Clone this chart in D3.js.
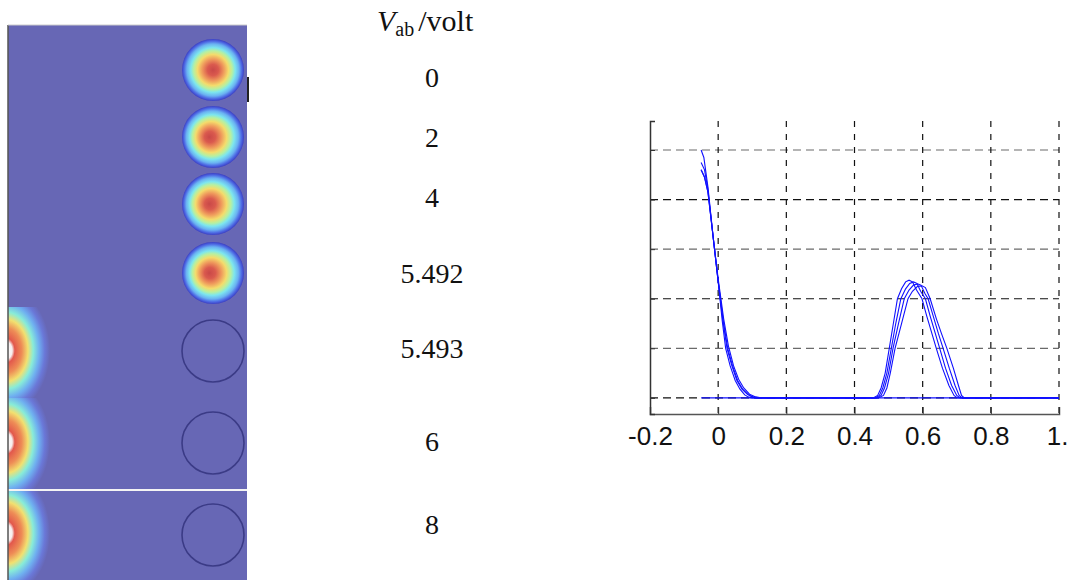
<!DOCTYPE html>
<html>
<head>
<meta charset="utf-8">
<script src="https://cdn.jsdelivr.net/npm/d3@7"></script>
<style>
  html, body { margin: 0; padding: 0; background: #fff; }
  svg { display: block; }
  .volt { font-family: "Liberation Serif", "Times New Roman", serif; font-size: 28px; fill: #111; }
</style>
</head>
<body>
<svg id="chart" width="1068" height="583"></svg>
<script>
// напряжения и состояние частицы (true = ушла к левому краю)
const voltages = ["0", "2", "4", "5.492", "5.493", "6", "8"];
const released = [false, false, false, false, true, true, true];

// подписи оси x
const xTicks = [-0.2, 0, 0.2, 0.4, 0.6, 0.8, 1.0];
const xTickLabels = ["-0.2", "0", "0.2", "0.4", "0.6", "0.8", "1."];
const yTicks = [0, 0.2, 0.4, 0.6, 0.8, 1.0];

// кривые профиля (x, значение)
const curve1 = [[-0.050,1.00],[-0.042,0.97],[-0.030,0.85],[-0.014,0.64],[0.000,0.47],[0.012,0.31],[0.022,0.20],[0.035,0.13],[0.050,0.07],[0.064,0.035],[0.078,0.012],[0.090,0.003],[0.100,0],
  [0.455,0],[0.468,0.01],[0.478,0.04],[0.490,0.10],[0.502,0.20],[0.514,0.30],[0.526,0.40],[0.538,0.44],[0.550,0.468],[0.560,0.475],[0.570,0.468],[0.582,0.435],[0.598,0.40],[0.612,0.33],[0.627,0.26],[0.640,0.20],[0.658,0.12],[0.677,0.05],[0.692,0.01],[0.702,0],[1.0,0]];
const curve2 = [[-0.050,0.95],[-0.040,0.92],[-0.030,0.84],[-0.014,0.64],[0.000,0.47],[0.014,0.31],[0.026,0.20],[0.040,0.13],[0.055,0.07],[0.070,0.035],[0.085,0.015],[0.100,0.004],[0.110,0],
  [0.460,0],[0.473,0.01],[0.483,0.04],[0.495,0.10],[0.508,0.20],[0.521,0.30],[0.536,0.40],[0.550,0.44],[0.562,0.462],[0.573,0.468],[0.583,0.462],[0.594,0.43],[0.608,0.40],[0.622,0.33],[0.637,0.26],[0.650,0.20],[0.667,0.12],[0.685,0.05],[0.700,0.01],[0.710,0],[1.0,0]];
const curve3 = [[-0.050,0.92],[-0.040,0.89],[-0.030,0.83],[-0.014,0.64],[0.000,0.48],[0.016,0.32],[0.030,0.21],[0.045,0.13],[0.060,0.075],[0.075,0.04],[0.092,0.015],[0.110,0.004],[0.125,0],
  [0.465,0],[0.478,0.01],[0.488,0.04],[0.500,0.10],[0.513,0.20],[0.529,0.30],[0.546,0.40],[0.560,0.435],[0.573,0.455],[0.585,0.46],[0.595,0.455],[0.607,0.42],[0.616,0.40],[0.631,0.33],[0.646,0.26],[0.660,0.20],[0.678,0.12],[0.695,0.05],[0.707,0.01],[0.716,0],[1.0,0]];
const curve4 = [[-0.050,0.92],[-0.040,0.89],[-0.030,0.83],[-0.014,0.64],[0.000,0.47],[0.015,0.31],[0.028,0.20],[0.042,0.13],[0.057,0.07],[0.072,0.035],[0.088,0.013],[0.104,0.003],[0.118,0],
  [0.470,0],[0.485,0.01],[0.495,0.04],[0.505,0.10],[0.519,0.20],[0.538,0.30],[0.557,0.40],[0.570,0.43],[0.585,0.45],[0.598,0.452],[0.608,0.445],[0.622,0.40],[0.640,0.32],[0.655,0.26],[0.671,0.20],[0.690,0.12],[0.705,0.05],[0.714,0.01],[0.722,0],[1.0,0]];
const curveFlat = [[-0.050,0],[1.0,0]];
const curves = [curve1, curve2, curve3, curve4, curveFlat];

const svg = d3.select("#chart");
const defs = svg.append("defs");

// ---------- левая панель (поле в канале) ----------
const panel = { x: 8, y: 25, w: 239, h: 555 };
const bg = "#6767b5";
const rowY = [70, 137, 204, 273, 351, 443, 535];     // центры окружностей
const labelBase = [87, 147, 207, 283, 358, 451, 534]; // базовые линии подписей
const sectionEdges = [307, 398, 490, 580];            // границы нижних кадров

defs.append("clipPath").attr("id", "panelClip")
  .append("rect").attr("x", panel.x).attr("y", panel.y).attr("width", panel.w).attr("height", panel.h);

// градиент пятна (jet, полупрозрачный)
function spotGradient(id, fx) {
  const g = defs.append("radialGradient").attr("id", id)
    .attr("cx", "50%").attr("cy", "50%").attr("r", "50%")
    .attr("fx", fx).attr("fy", "50%");
  [[0, "#c94848"], [0.18, "#da5a4e"], [0.35, "#ef9a5c"], [0.5, "#f4dc6c"], [0.62, "#b8f0a0"],
   [0.72, "#7de6ee"], [0.84, "#6ab2f2"], [0.93, "#4e6ae4"], [1, "#3b3fc4"]]
    .forEach(s => g.append("stop").attr("offset", s[0]).attr("stop-color", s[1]));
}
spotGradient("spot0", "50%");
spotGradient("spot1", "44%");

// градиент полукольца у левой стенки
const edgeGrad = defs.append("radialGradient").attr("id", "edgeRing")
  .attr("cx", "50%").attr("cy", "50%").attr("r", "50%");
[[0, "#ffffff"], [0.14, "#f6eeee"], [0.2, "#e2584c"], [0.36, "#ee8c56"], [0.5, "#f2e070"],
 [0.62, "#88ecd8"], [0.75, "#6fb0f0"], [0.88, "#6a78d8"], [1, bg]]
  .forEach(s => edgeGrad.append("stop").attr("offset", s[0]).attr("stop-color", s[1]));

const left = svg.append("g");
left.append("rect").attr("x", panel.x).attr("y", panel.y).attr("width", panel.w).attr("height", panel.h)
  .attr("fill", bg);

const inner = left.append("g").attr("clip-path", "url(#panelClip)");

// полукольца для отпущенных частиц
voltages.forEach((v, i) => {
  if (!released[i]) return;
  const k = i - 4;
  const y0 = sectionEdges[k], y1 = sectionEdges[k + 1];
  const cid = "sec" + k;
  defs.append("clipPath").attr("id", cid)
    .append("rect").attr("x", panel.x).attr("y", y0).attr("width", panel.w).attr("height", y1 - y0);
  inner.append("ellipse").attr("clip-path", `url(#${cid})`)
    .attr("cx", panel.x - 2).attr("cy", (y0 + y1) / 2 - 2)
    .attr("rx", 44).attr("ry", 62)
    .attr("fill", "url(#edgeRing)");
});

// окружности частиц
voltages.forEach((v, i) => {
  if (released[i]) {
    inner.append("circle").attr("cx", 213).attr("cy", rowY[i]).attr("r", 31)
      .attr("fill", "none").attr("stroke", "#3b3b86").attr("stroke-width", 1.6);
  } else {
    inner.append("circle").attr("cx", 213).attr("cy", rowY[i]).attr("r", 31)
      .attr("fill", i === 0 ? "url(#spot0)" : "url(#spot1)");
  }
});

// разделитель кадров и рамка
left.append("line").attr("x1", panel.x).attr("x2", panel.x + panel.w)
  .attr("y1", 490).attr("y2", 490).attr("stroke", "#f4f4f4").attr("stroke-width", 2);
left.append("line").attr("x1", panel.x).attr("x2", panel.x)
  .attr("y1", panel.y).attr("y2", panel.y + panel.h).attr("stroke", "#555").attr("stroke-width", 1.5);
left.append("line").attr("x1", panel.x).attr("x2", panel.x + panel.w)
  .attr("y1", panel.y).attr("y2", panel.y).attr("stroke", "#ccc").attr("stroke-width", 1);
left.append("rect").attr("x", 247).attr("y", 77).attr("width", 2).attr("height", 25).attr("fill", "#222");

// ---------- подписи напряжений ----------
const head = svg.append("text").attr("class", "volt").attr("x", 377).attr("y", 31).style("font-size", "30px");
head.append("tspan").attr("font-style", "italic").text("V");
head.append("tspan").style("font-size", "20px").attr("dy", 5).text("ab");
head.append("tspan").attr("dy", -5).attr("dx", 4).text("/volt");

svg.selectAll(".vlabel").data(voltages).enter().append("text")
  .attr("class", "volt vlabel")
  .attr("x", 432).attr("y", (d, i) => labelBase[i])
  .attr("text-anchor", "middle")
  .text(d => d);

// ---------- правый график ----------
const x = d3.scaleLinear().domain([-0.2, 1.0]).range([650, 1059]);
const y = d3.scaleLinear().domain([-0.065, 1.117]).range([414, 121]);
const plot = svg.append("g");

// сетка
plot.selectAll(".hgrid").data(yTicks).enter().append("line")
  .attr("x1", x(-0.2)).attr("x2", x(1.0))
  .attr("y1", d => y(d)).attr("y2", d => y(d))
  .attr("stroke", (d, i) => i % 2 ? "#6a6a6a" : "#111")
  .attr("stroke-width", 1.2).attr("stroke-dasharray", "8,5");
plot.selectAll(".vgrid").data(xTicks.slice(1)).enter().append("line")
  .attr("x1", d => x(d)).attr("x2", d => x(d))
  .attr("y1", 121).attr("y2", 414)
  .attr("stroke", "#111").attr("stroke-width", 1.2).attr("stroke-dasharray", "6,7");

// оси
const xAxis = d3.axisBottom(x).tickValues(xTicks).tickSize(-7).tickFormat((d, i) => xTickLabels[i]);
const gx = plot.append("g").attr("transform", "translate(0,414)").call(xAxis);
gx.select(".domain").attr("stroke", "#555").attr("stroke-width", 1.5);
gx.selectAll(".tick line").attr("stroke", "#333");
gx.selectAll(".tick text").attr("dy", 0).attr("y", 31)
  .style("font-family", "'Liberation Sans', Arial, sans-serif").style("font-size", "26px").attr("fill", "#111");
// последняя подпись прижата к краю, как в оригинале
gx.selectAll(".tick text").filter((d, i) => i === xTicks.length - 1)
  .attr("text-anchor", "end").attr("x", 9);

const yAxis = d3.axisLeft(y).tickValues(yTicks).tickSize(-5).tickFormat("");
const gy = plot.append("g").attr("transform", "translate(650,0)").call(yAxis);
gy.select(".domain").attr("stroke", "#333").attr("stroke-width", 1.5);
gy.selectAll(".tick line").attr("stroke", "#333");

// кривые
const line = d3.line().x(d => x(d[0])).y(d => y(d[1]));
plot.selectAll(".curve").data(curves).enter().append("path")
  .attr("d", line).attr("fill", "none").attr("stroke", "#1010ff").attr("stroke-width", 1.1);
</script>
</body>
</html>
